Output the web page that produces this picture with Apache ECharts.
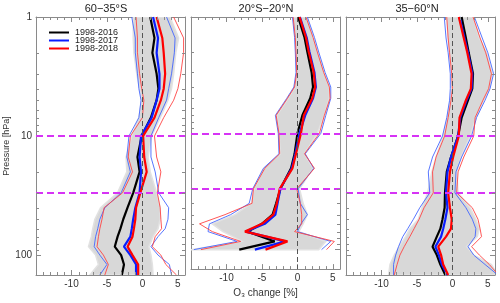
<!DOCTYPE html>
<html><head><meta charset="utf-8">
<script src="https://cdn.jsdelivr.net/npm/echarts@6/dist/echarts.min.js"></script>
<style>html,body{margin:0;padding:0;background:#fff}#c{width:500px;height:303px}</style>
</head><body><div id="c"></div>
<script>
// pressure levels [hPa]
const pressure = [1, 1.5, 2, 3, 4, 5, 7, 10, 15, 20, 30, 40, 50, 60, 70, 85, 100, 120, 147];
const panelTitles = ['60\u221235\u00b0S', '20\u00b0S\u221220\u00b0N', '35\u221260\u00b0N'];
const seriesNames = ['1998-2016', '1998-2017', '1998-2018'];
const xTickLabels = [-10, -5, 0, 5];
const yTickLabels = [1, 10, 100];
const xMinorTicks = [-14, -13, -12, -11, -9, -8, -7, -6, -4, -3, -2, -1, 1, 2, 3, 4];
const yMinorTicks = [2, 3, 4, 5, 6, 7, 8, 9, 20, 30, 40, 50, 60, 70, 80, 90];
const refLevels = [10, 30];

// Panel 1: 60-35S
const p1Black = [1.1, 1.7, 1.4, 2.0, 2.25, 2.0, 1.2, -0.1, -0.7, -0.4, -1.3, -2.1, -2.7, -3.1, -3.5, -3.9, -3.0, -2.6, -2.9];
const p1Blue  = [1.5, 2.2, 2.0, 2.4, 2.4, 2.0, 1.3, -0.2, -0.4, -0.2, -0.4, -1.0, -1.3, -1.5, -1.7, -2.6, -1.7, -0.9, -0.9];
const p1Red   = [2.0, 2.8, 3.0, 3.2, 3.0, 2.6, 1.7, 0.1, 0.25, 0.6, -0.3, -0.9, -1.0, -1.2, -1.4, -2.1, -1.4, -0.6, -0.6];
const p1BandLo = [-1.3, -1.3, -1.2, -0.8, -0.4, -0.1, -0.5, -1.5, -2.3, -2.2, -3.5, -5.9, -6.7, -7.0, -7.2, -7.6, -6.6, -6.2, -7.4];
const p1BandHi = [3.9, 5.1, 4.7, 4.4, 4.1, 3.6, 2.5, 1.3, 0.8, 1.1, 2.0, 2.5, 2.5, 2.2, 1.5, 0.9, 1.2, 1.4, 1.5];
const p1BlueLo = [-1.5, -1.0, -1.0, -0.7, -0.5, -0.2, -0.5, -1.9, -2.2, -1.7, -3.0, -5.3, -6.0, -6.3, -6.6, -6.8, -6.0, -5.0, -6.0];
const p1RedLo  = [-0.9, -0.7, -0.7, -0.4, -0.1, 0.2, 0.0, -1.7, -2.0, -1.4, -2.8, -5.4, -5.7, -6.0, -6.2, -6.4, -5.5, -4.8, -5.3];
const p1BlueHi = [3.4, 4.6, 4.5, 4.1, 3.7, 3.4, 2.3, 1.2, 1.2, 1.8, 2.3, 3.7, 3.6, 3.2, 2.2, 1.2, 2.2, 3.8, 4.1];
const p1RedHi  = [4.4, 5.8, 5.8, 5.4, 5.0, 4.4, 3.0, 1.7, 2.0, 2.6, 2.1, 2.5, 2.6, 2.7, 1.8, 1.4, 2.6, 3.3, 4.8];

// Panel 2: 20S-20N
const p2Black = [0.1, 1.0, 1.4, 2.0, 2.2, 1.8, 0.7, 0.0, -0.4, -0.9, -2.4, -3.0, -3.5, -5.0, -7.0, -3.2, -8.2, null, null];
const p2Blue  = [0.35, 1.3, 1.7, 2.4, 2.6, 2.2, 1.1, 0.3, -0.3, -0.8, -2.4, -2.8, -3.1, -4.6, -7.3, -1.7, -6.0, null, null];
const p2Red   = [0.3, 1.2, 1.6, 2.3, 2.5, 2.1, 0.9, 0.5, -0.2, -0.7, -2.5, -2.9, -3.4, -5.0, -7.4, -1.4, -4.5, null, null];
const p2BandLo = [-0.6, -0.3, -0.2, -0.1, -0.35, -1.3, -2.9, -2.6, -2.4, -4.7, -6.1, -6.5, -8.8, -12.0, -10.5, -7.8, -15.0, null, null];
const p2BandHi = [1.3, 2.2, 2.8, 3.7, 4.5, 4.5, 3.8, 2.8, 1.0, 2.2, 0.3, 0.8, 1.4, 0.8, 0.2, 4.0, 3.0, null, null];
const p2BlueLo = [-0.7, -0.4, -0.3, -0.2, -0.5, -1.5, -3.1, -2.7, -2.6, -4.8, -6.3, -6.8, -9.4, -12.4, -12.6, -8.5, -14.6, null, null];
const p2RedLo  = [-0.6, -0.3, -0.2, -0.1, -0.4, -1.4, -3.0, -2.6, -2.5, -4.6, -6.2, -6.4, -10.2, -13.8, -12.0, -8.0, -13.6, null, null];
const p2BlueHi = [1.4, 2.4, 3.0, 3.9, 4.7, 4.7, 4.0, 3.3, 1.1, 2.3, 0.1, 0.4, 1.4, 0.5, 0.0, 4.7, 3.4, null, null];
const p2RedHi  = [1.2, 2.2, 2.8, 3.7, 4.5, 4.6, 3.8, 3.1, 1.0, 2.4, -0.1, 0.4, 0.6, 0.6, -0.4, 5.2, 4.1, null, null];

// Panel 3: 35-60N
const p3Black = [1.3, 1.9, 2.3, 2.9, 2.8, 2.2, 1.3, 0.8, -0.2, -0.8, -1.05, -1.1, -1.4, -1.7, -2.2, -2.8, -2.2, -1.7, -1.0];
const p3Blue  = [1.0, 1.7, 2.2, 2.8, 2.7, 2.0, 1.1, 0.8, -0.2, -0.7, -0.9, -0.7, -1.0, -1.3, -1.6, -2.4, -1.9, -1.5, -0.7];
const p3Red   = [0.9, 1.6, 2.1, 2.7, 2.6, 1.9, 1.0, 0.9, 0.1, -0.35, -0.6, -0.35, -0.1, -0.2, -0.9, -2.0, -1.6, -1.3, -0.6];
const p3BandLo = [-0.8, -0.6, -0.4, -0.1, -0.1, -0.3, -0.7, -1.3, -2.3, -2.9, -3.5, -4.3, -4.8, -6.0, -6.6, -7.5, -8.2, -8.8, -9.0];
const p3BandHi = [2.9, 3.8, 4.8, 5.6, 5.2, 4.4, 3.3, 2.5, 1.2, 0.6, 0.8, 2.5, 3.3, 3.8, 3.5, 2.0, 3.0, 5.5, 6.4];
const p3BlueLo = [-1.15, -0.9, -0.6, -0.3, -0.3, -0.4, -0.8, -1.4, -2.8, -3.4, -3.2, -4.6, -5.5, -6.3, -7.0, -7.6, -8.0, -8.3, -8.3];
const p3RedLo  = [-0.8, -0.6, -0.4, -0.1, 0.0, -0.2, -0.6, -1.1, -2.3, -2.8, -2.7, -4.0, -4.7, -5.4, -6.0, -6.8, -7.4, -7.8, -8.2];
const p3BlueHi = [3.1, 4.2, 5.0, 5.8, 5.3, 4.6, 3.4, 2.7, 1.3, 0.5, 0.35, 1.9, 2.8, 3.3, 3.2, 2.2, 3.0, 4.6, 6.4];
const p3RedHi  = [2.9, 3.9, 4.7, 5.5, 5.1, 4.3, 3.2, 3.0, 1.6, 0.8, 0.6, 2.8, 3.6, 3.9, 4.1, 2.7, 3.8, 5.2, 6.5];

const panels = [
  {black: p1Black, blue: p1Blue, red: p1Red, bandLo: p1BandLo, bandHi: p1BandHi, blueLo: p1BlueLo, blueHi: p1BlueHi, redLo: p1RedLo, redHi: p1RedHi},
  {black: p2Black, blue: p2Blue, red: p2Red, bandLo: p2BandLo, bandHi: p2BandHi, blueLo: p2BlueLo, blueHi: p2BlueHi, redLo: p2RedLo, redHi: p2RedHi},
  {black: p3Black, blue: p3Blue, red: p3Red, bandLo: p3BandLo, bandHi: p3BandHi, blueLo: p3BlueLo, blueHi: p3BlueHi, redLo: p3RedLo, redHi: p3RedHi}
];

const FONT = 'Liberation Sans';
const AX = '#8a8a8a';
const gridLefts = [36, 191, 346];
const titleX = [106, 266, 417];

function pairs(vals) {
  const out = [];
  vals.forEach((v, k) => { if (v != null) out.push([v, pressure[k]]); });
  return out;
}
function isDecade(v) { const l = Math.log10(v); return Math.abs(l - Math.round(l)) < 1e-6; }

const grid = [], xAxis = [], yAxis = [], series = [], graphic = [];
panels.forEach((pd, i) => {
  grid.push({left: gridLefts[i], top: 17, width: 149, height: 258, containLabel: false});
  const xCommon = {
    gridIndex: i, type: 'value', min: -15, max: 6, interval: 5,
    axisLine: {show: true, onZero: false, lineStyle: {color: AX, width: 1}},
    axisTick: {show: true, inside: true, length: 5, lineStyle: {color: AX}},
    splitLine: {show: false}
  };
  xAxis.push(Object.assign({}, xCommon, {
    position: 'bottom',
    axisLabel: {show: true, margin: 4, fontSize: 10, fontFamily: FONT, color: '#333',
      formatter: v => xTickLabels.indexOf(Math.round(v)) >= 0 && Math.abs(v - Math.round(v)) < 1e-9 ? String(v) : ''},
    name: i === 1 ? 'O\u2083 change [%]' : '', nameLocation: 'middle', nameGap: 14,
    nameTextStyle: {fontSize: 10, fontFamily: FONT, color: '#333'}
  }));
  xAxis.push(Object.assign({}, xCommon, {position: 'top', axisLabel: {show: false}}));
  const yCommon = {
    gridIndex: i, type: 'log', logBase: 10, min: 1, max: 147, inverse: true,
    axisLine: {show: true, onZero: false, lineStyle: {color: AX, width: 1}},
    axisTick: {show: true, inside: true, length: 5, lineStyle: {color: AX}},
    splitLine: {show: false}
  };
  yAxis.push(Object.assign({}, yCommon, {
    position: 'left',
    axisLabel: {show: i === 0, margin: 4, fontSize: 10, fontFamily: FONT, color: '#333',
      formatter: v => (isDecade(v) && yTickLabels.indexOf(Math.round(v)) >= 0) ? String(Math.round(v)) : ''},
    name: i === 0 ? 'Pressure [hPa]' : '', nameLocation: 'middle', nameGap: 22, nameRotate: 90,
    nameTextStyle: {fontSize: 9, fontFamily: FONT, color: '#333'}
  }));
  yAxis.push(Object.assign({}, yCommon, {position: 'right', axisLabel: {show: false}}));

  const xi = 2 * i, yi = 2 * i;
  // gray uncertainty band
  series.push({
    type: 'custom', xAxisIndex: xi, yAxisIndex: yi, z: 1, silent: true, clip: true,
    data: [[0, 10]],
    renderItem: (params, api) => {
      const pts = [];
      pd.bandLo.forEach((v, k) => { if (v != null) pts.push(api.coord([v, pressure[k]])); });
      for (let k = pressure.length - 1; k >= 0; k--) if (pd.bandHi[k] != null) pts.push(api.coord([pd.bandHi[k], pressure[k]]));
      const cs = params.coordSys;
      return {type: 'group',
        clipPath: {type: 'rect', shape: {x: cs.x, y: cs.y, width: cs.width, height: cs.height}},
        children: [{type: 'polygon', shape: {points: pts}, style: {fill: '#d8d8d8', stroke: '#e2e2e2', lineWidth: 1.5}}]};
    },
    markLine: {silent: true, symbol: ['none', 'none'], label: {show: false}, animation: false,
      lineStyle: {color: '#555', type: [5, 3], width: 1}, emphasis: {disabled: true},
      data: [{xAxis: 0}]}
  });
  // minor ticks
  series.push({
    type: 'custom', xAxisIndex: xi, yAxisIndex: yi, z: 6, silent: true,
    data: [[0, 10]],
    renderItem: (params, api) => {
      const cs = params.coordSys, ch = [];
      const st = {stroke: AX, lineWidth: 1};
      xMinorTicks.forEach(t => {
        const px = Math.round(api.coord([t, 10])[0]) + 0.5;
        ch.push({type: 'line', shape: {x1: px, y1: cs.y + cs.height, x2: px, y2: cs.y + cs.height - 3}, style: st});
        ch.push({type: 'line', shape: {x1: px, y1: cs.y, x2: px, y2: cs.y + 3}, style: st});
      });
      yMinorTicks.forEach(t => {
        const py = Math.round(api.coord([0, t])[1]) + 0.5;
        ch.push({type: 'line', shape: {x1: cs.x, y1: py, x2: cs.x + 3, y2: py}, style: st});
        ch.push({type: 'line', shape: {x1: cs.x + cs.width, y1: py, x2: cs.x + cs.width - 3, y2: py}, style: st});
      });
      return {type: 'group', children: ch};
    }
  });
  const thin = (vals, color) => ({
    type: 'line', xAxisIndex: xi, yAxisIndex: yi, z: 3, symbol: 'none', silent: true, clip: true,
    data: pairs(vals), lineStyle: {color: color, width: 0.9}, emphasis: {disabled: true}
  });
  series.push(thin(pd.blueLo, '#4466ff'), thin(pd.blueHi, '#4466ff'), thin(pd.redLo, '#ff4444'), thin(pd.redHi, '#ff4444'));
  const thick = (name, vals, color) => ({
    name: name, type: 'line', xAxisIndex: xi, yAxisIndex: yi, z: 4, symbol: 'none', silent: true, clip: true,
    data: pairs(vals), lineStyle: {color: color, width: 2.2}, itemStyle: {color: color}, emphasis: {disabled: true}
  });
  series.push(thick(seriesNames[0], pd.black, '#000000'));
  series.push(thick(seriesNames[1], pd.blue, '#0a1eff'));
  const redS = thick(seriesNames[2], pd.red, '#ff0000');
  redS.markLine = {silent: true, symbol: ['none', 'none'], label: {show: false}, animation: false,
    lineStyle: {color: '#d633f5', type: [7, 4], width: 2}, emphasis: {disabled: true},
    data: refLevels.map(v => ({yAxis: v}))};
  series.push(redS);

  graphic.push({type: 'text', x: titleX[i], y: 9, silent: true,
    style: {text: panelTitles[i], font: '11px "' + FONT + '"', fill: '#222',
      align: 'center', verticalAlign: 'middle', textAlign: 'center', textVerticalAlign: 'middle'}});
});

const chart = echarts.init(document.getElementById('c'), null, {renderer: 'canvas'});
chart.setOption({
  animation: false,
  backgroundColor: '#fff',
  grid, xAxis, yAxis, series, graphic,
  legend: {data: seriesNames.map(n => ({name: n, icon: 'rect'})), orient: 'vertical', left: 49, top: 28,
    itemWidth: 20, itemHeight: 2, itemGap: -1, padding: 0,
    textStyle: {fontSize: 9, fontFamily: FONT, color: '#222', padding: [0, 0, 0, 1]}, selectedMode: false}
});
</script>
</body></html>
